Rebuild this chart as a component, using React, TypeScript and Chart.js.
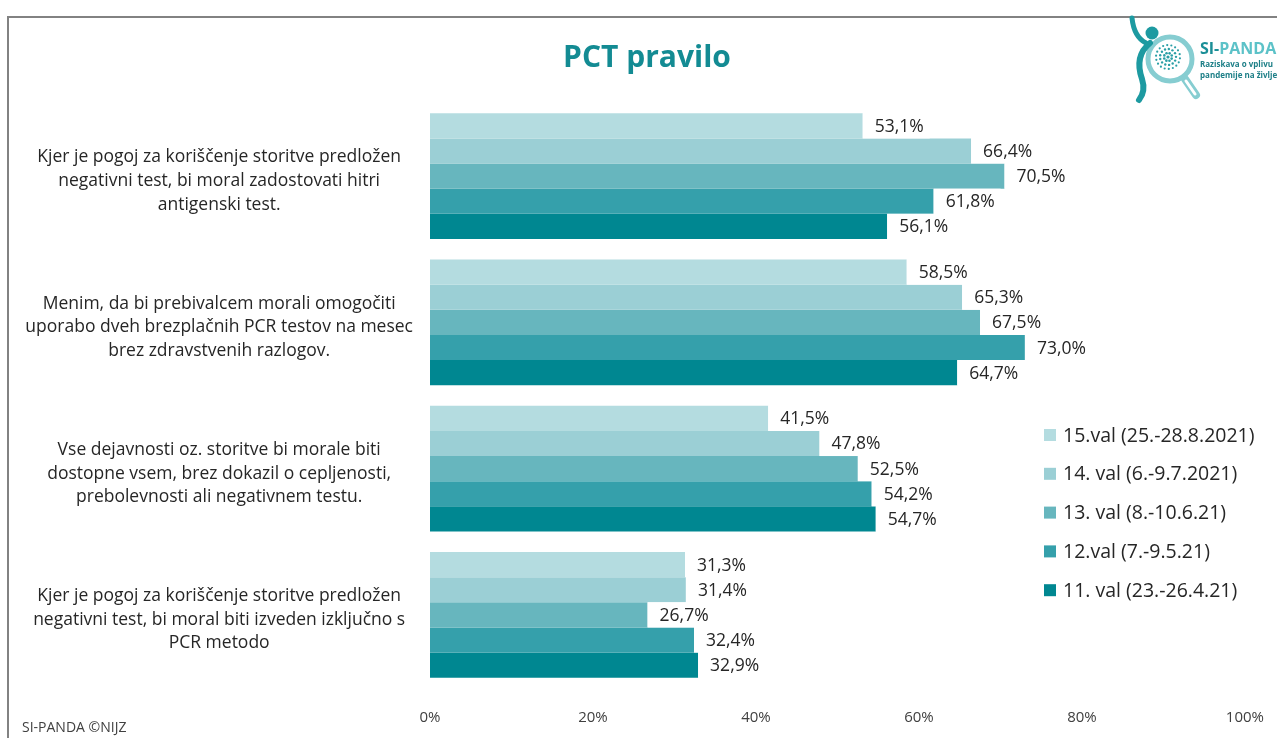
import React, { useEffect, useRef } from 'react';
import { Chart, registerables } from 'chart.js';

Chart.register(...registerables);

const titleText = 'PCT pravilo';
const footerText = 'SI-PANDA ©NIJZ';

const categories: string[][] = [
  ['Kjer je pogoj za koriščenje storitve predložen', 'negativni test, bi moral zadostovati hitri', 'antigenski test.'],
  ['Menim, da bi prebivalcem morali omogočiti', 'uporabo dveh brezplačnih PCR testov na mesec', 'brez zdravstvenih razlogov.'],
  ['Vse dejavnosti oz. storitve bi morale biti', 'dostopne vsem, brez dokazil o cepljenosti,', 'prebolevnosti ali negativnem testu.'],
  ['Kjer je pogoj za koriščenje storitve predložen', 'negativni test, bi moral biti izveden izključno s', 'PCR metodo'],
];

const seriesLabels = [
  '15.val (25.-28.8.2021)',
  '14. val (6.-9.7.2021)',
  '13. val (8.-10.6.21)',
  '12.val (7.-9.5.21)',
  '11. val (23.-26.4.21)',
];

const val15 = [53.1, 58.5, 41.5, 31.3];
const val14 = [66.4, 65.3, 47.8, 31.4];
const val13 = [70.5, 67.5, 52.5, 26.7];
const val12 = [61.8, 73.0, 54.2, 32.4];
const val11 = [56.1, 64.7, 54.7, 32.9];

const seriesValues = [val15, val14, val13, val12, val11];
const seriesColors = ['#b4dce0', '#9bcfd5', '#67b6be', '#35a0ab', '#008791'];

const xMin = 0;
const xMax = 100;
const xStep = 20;

const FONT = "'Open Sans', 'Noto Sans', sans-serif";

const valueLabelPlugin = {
  id: 'valueLabels',
  afterDatasetsDraw(chart: any) {
    const ctx = chart.ctx;
    ctx.save();
    ctx.font = `17.5px ${FONT}`;
    ctx.textBaseline = 'middle';
    ctx.textAlign = 'left';
    chart.data.datasets.forEach((ds: any, di: number) => {
      const meta = chart.getDatasetMeta(di);
      meta.data.forEach((el: any, i: number) => {
        const v = ds.data[i] as number;
        const txt = v.toFixed(1).replace('.', ',') + '%';
        const w = ctx.measureText(txt).width;
        const h = el.height;
        ctx.fillStyle = '#ffffff';
        ctx.fillRect(el.x, el.y - h / 2, w + 18, h);
        ctx.fillStyle = '#262626';
        ctx.fillText(txt, el.x + 12, el.y + 1);
      });
    });
    ctx.restore();
  },
};

const decorPlugin = {
  id: 'decor',
  afterDraw(chart: any) {
    const ctx = chart.ctx;
    ctx.save();
    // frame
    ctx.strokeStyle = '#828282';
    ctx.lineWidth = 2;
    ctx.beginPath();
    ctx.moveTo(8, 738);
    ctx.lineTo(8, 17);
    ctx.lineTo(1277, 17);
    ctx.stroke();

    // title
    ctx.fillStyle = '#138b93';
    ctx.font = `bold 30px ${FONT}`;
    ctx.textAlign = 'center';
    ctx.textBaseline = 'alphabetic';
    ctx.fillText(titleText, 647, 67);

    // footer
    ctx.fillStyle = '#404040';
    ctx.font = `14px ${FONT}`;
    ctx.textAlign = 'left';
    ctx.textBaseline = 'middle';
    ctx.fillText(footerText, 22, 728);

    // legend
    ctx.font = `19.5px ${FONT}`;
    chart.data.datasets.forEach((ds: any, i: number) => {
      const y = 435 + i * 38.8;
      ctx.fillStyle = ds.backgroundColor;
      ctx.fillRect(1044, y - 6, 12, 12);
      ctx.fillStyle = '#262626';
      ctx.fillText(ds.label, 1063, y + 1);
    });

    // logo
    const dark = '#1d9aa1';
    const light = '#86cdd1';
    ctx.strokeStyle = light;
    ctx.lineWidth = 5;
    ctx.beginPath();
    ctx.arc(1170, 59, 22, 0, Math.PI * 2);
    ctx.stroke();
    ctx.lineCap = 'round';
    ctx.lineWidth = 8;
    ctx.beginPath();
    ctx.moveTo(1185, 79);
    ctx.lineTo(1196, 95);
    ctx.stroke();
    ctx.strokeStyle = '#ffffff';
    ctx.lineWidth = 3;
    ctx.beginPath();
    ctx.moveTo(1186, 81);
    ctx.lineTo(1195, 94);
    ctx.stroke();
    ctx.fillStyle = dark;
    ctx.beginPath();
    ctx.arc(1152, 33, 6.5, 0, Math.PI * 2);
    ctx.fill();
    ctx.strokeStyle = dark;
    ctx.lineWidth = 5;
    ctx.beginPath();
    ctx.moveTo(1132, 18);
    ctx.quadraticCurveTo(1134, 37, 1146, 43);
    ctx.stroke();
    ctx.lineWidth = 6;
    ctx.beginPath();
    ctx.moveTo(1150, 43);
    ctx.quadraticCurveTo(1134, 56, 1142, 79);
    ctx.quadraticCurveTo(1146, 91, 1139, 100);
    ctx.stroke();
    ctx.fillStyle = '#2a9fa6';
    const vc = [1168, 57];
    [[0, 1, 1.6], [4, 8, 1.3], [8, 13, 1.2], [12, 18, 1.1]].forEach(([r, n, s]) => {
      for (let k = 0; k < n; k++) {
        const a = (k / n) * Math.PI * 2 + r * 0.3;
        ctx.beginPath();
        ctx.arc(vc[0] + r * Math.cos(a), vc[1] + r * Math.sin(a), s, 0, Math.PI * 2);
        ctx.fill();
      }
    });
    ctx.textAlign = 'left';
    ctx.textBaseline = 'alphabetic';
    ctx.font = `bold 16px ${FONT}`;
    ctx.fillStyle = '#1b8f97';
    ctx.fillText('SI-', 1200, 54);
    const w = ctx.measureText('SI-').width;
    ctx.fillStyle = '#5cc2c8';
    ctx.fillText('PANDA', 1200 + w, 54);
    ctx.font = `bold 8px ${FONT}`;
    ctx.fillStyle = '#1d7f87';
    ctx.fillText('Raziskava o vplivu', 1200, 67);
    ctx.fillText('pandemije na življenje', 1200, 78);
    ctx.restore();
  },
};

export default function App() {
  const ref = useRef<HTMLCanvasElement | null>(null);

  useEffect(() => {
    if (!ref.current) return;
    const chart = new Chart(ref.current, {
      type: 'bar',
      data: {
        labels: categories,
        datasets: seriesLabels.map((label, i) => ({
          label,
          data: seriesValues[i],
          backgroundColor: seriesColors[i],
          borderWidth: 0,
          barPercentage: 1,
          categoryPercentage: 0.86,
        })),
      },
      options: {
        indexAxis: 'y',
        responsive: false,
        animation: false,
        layout: { padding: { top: 103, right: 23, bottom: 0, left: 0 } },
        plugins: {
          legend: { display: false },
          tooltip: { enabled: false },
          title: { display: false },
        },
        scales: {
          x: {
            min: xMin,
            max: xMax,
            grid: { display: false },
            border: { display: false },
            ticks: {
              stepSize: xStep,
              callback: (v: any) => `${v}%`,
              font: { family: FONT, size: 15 },
              color: '#404040',
              padding: 13,
              maxRotation: 0,
            },
            afterFit: (s: any) => {
              s.height = 50;
            },
          },
          y: {
            grid: { display: false },
            border: { display: false },
            ticks: {
              crossAlign: 'center',
              padding: 9,
              labelOffset: 5,
              font: { family: FONT, size: 17.5, lineHeight: 1.35 },
              color: '#262626',
            },
            afterFit: (s: any) => {
              s.width = 430;
            },
          },
        },
      },
      plugins: [valueLabelPlugin, decorPlugin],
    } as any);
    return () => chart.destroy();
  }, []);

  return (
    <div style={{ position: 'absolute', left: 0, top: 0, width: 1277, height: 738, background: '#ffffff' }}>
      <canvas ref={ref} width={1277} height={738} style={{ display: 'block' }} />
    </div>
  );
}
